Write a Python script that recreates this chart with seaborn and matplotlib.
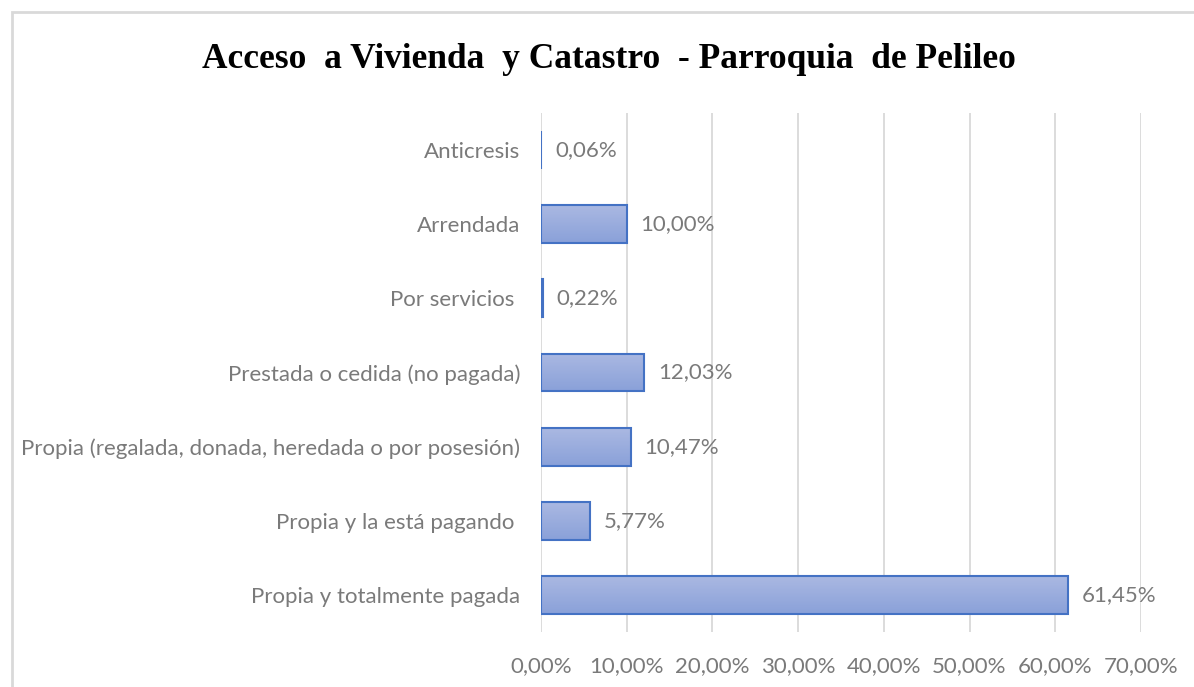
import numpy as np
import pandas as pd
import matplotlib
matplotlib.use("Agg")
import matplotlib.pyplot as plt
import seaborn as sns
from matplotlib.patches import Rectangle
from matplotlib.ticker import FuncFormatter, MultipleLocator

# Tenencia de vivienda (porcentaje de hogares)
categorias = [
    "Anticresis",
    "Arrendada",
    "Por servicios ",
    "Prestada o cedida (no pagada)",
    "Propia (regalada, donada, heredada o por posesión)",
    "Propia y la está pagando ",
    "Propia y totalmente pagada",
]
porcentajes = [0.06, 10.00, 0.22, 12.03, 10.47, 5.77, 61.45]

titulo = "Acceso  a Vivienda  y Catastro  - Parroquia  de Pelileo"

df = pd.DataFrame({"Categoria": categorias, "Porcentaje": porcentajes})

sns.set_style("white")
plt.rcParams["font.family"] = ["Lato", "DejaVu Sans"]

gris = "#7a7a7a"
tam = 16
fig = plt.figure(figsize=(11.94, 6.87), dpi=100)
ax = fig.add_axes([0.453, 0.08, 0.5026, 0.7555])

sns.barplot(data=df, x="Porcentaje", y="Categoria", orient="h", color="#9aabdd",
            width=0.51, edgecolor="#4472c4", linewidth=1.5, ax=ax, zorder=3)

# degradado en cada barra
grad = np.linspace(0, 1, 64).reshape(-1, 1)
cmap = matplotlib.colors.LinearSegmentedColormap.from_list("g", ["#aab8e2", "#8aa1d9"])
for p in ax.patches:
    x0, y0 = p.get_x(), p.get_y()
    w, h = p.get_width(), p.get_height()
    im = ax.imshow(grad, extent=[x0, x0 + w, y0 + h, y0], aspect="auto", cmap=cmap,
                   zorder=3.5, origin="upper")
    im.set_clip_path(p)
    p.set_facecolor("none")
    p.set_zorder(4)

for i, v in enumerate(porcentajes):
    ax.annotate(f"{v:.2f}%".replace(".", ","), (v, i), xytext=(10, 0),
                textcoords="offset points", va="center", ha="left",
                color=gris, fontsize=tam)

ax.set_xlim(0, 70)
ax.set_ylim(6.5, -0.5)
ax.xaxis.set_major_locator(MultipleLocator(10))
ax.xaxis.set_major_formatter(FuncFormatter(lambda v, _: f"{v:.2f}%".replace(".", ",")))
ax.grid(axis="x", color="#d9d9d9", linewidth=1.3, zorder=0)
ax.set_axisbelow(True)
for s in ax.spines.values():
    s.set_visible(False)
ax.tick_params(axis="both", length=0, colors=gris, labelsize=tam)
ax.tick_params(axis="x", pad=17)
ax.tick_params(axis="y", pad=15)
ax.set_xlabel("")
ax.set_ylabel("")

fig.text(0.51, 0.913, titulo, ha="center", va="center", fontsize=25.5,
         fontweight="bold", family=["Liberation Serif", "DejaVu Serif"], color="black")

# marco del gráfico
fig.patches.append(Rectangle((12 / 1194, -0.1), 1.2, 1 - 12 / 687 + 0.1,
                             transform=fig.transFigure, fill=False,
                             edgecolor="#d9d9d9", linewidth=2))

fig.savefig("out.png", dpi=100)
